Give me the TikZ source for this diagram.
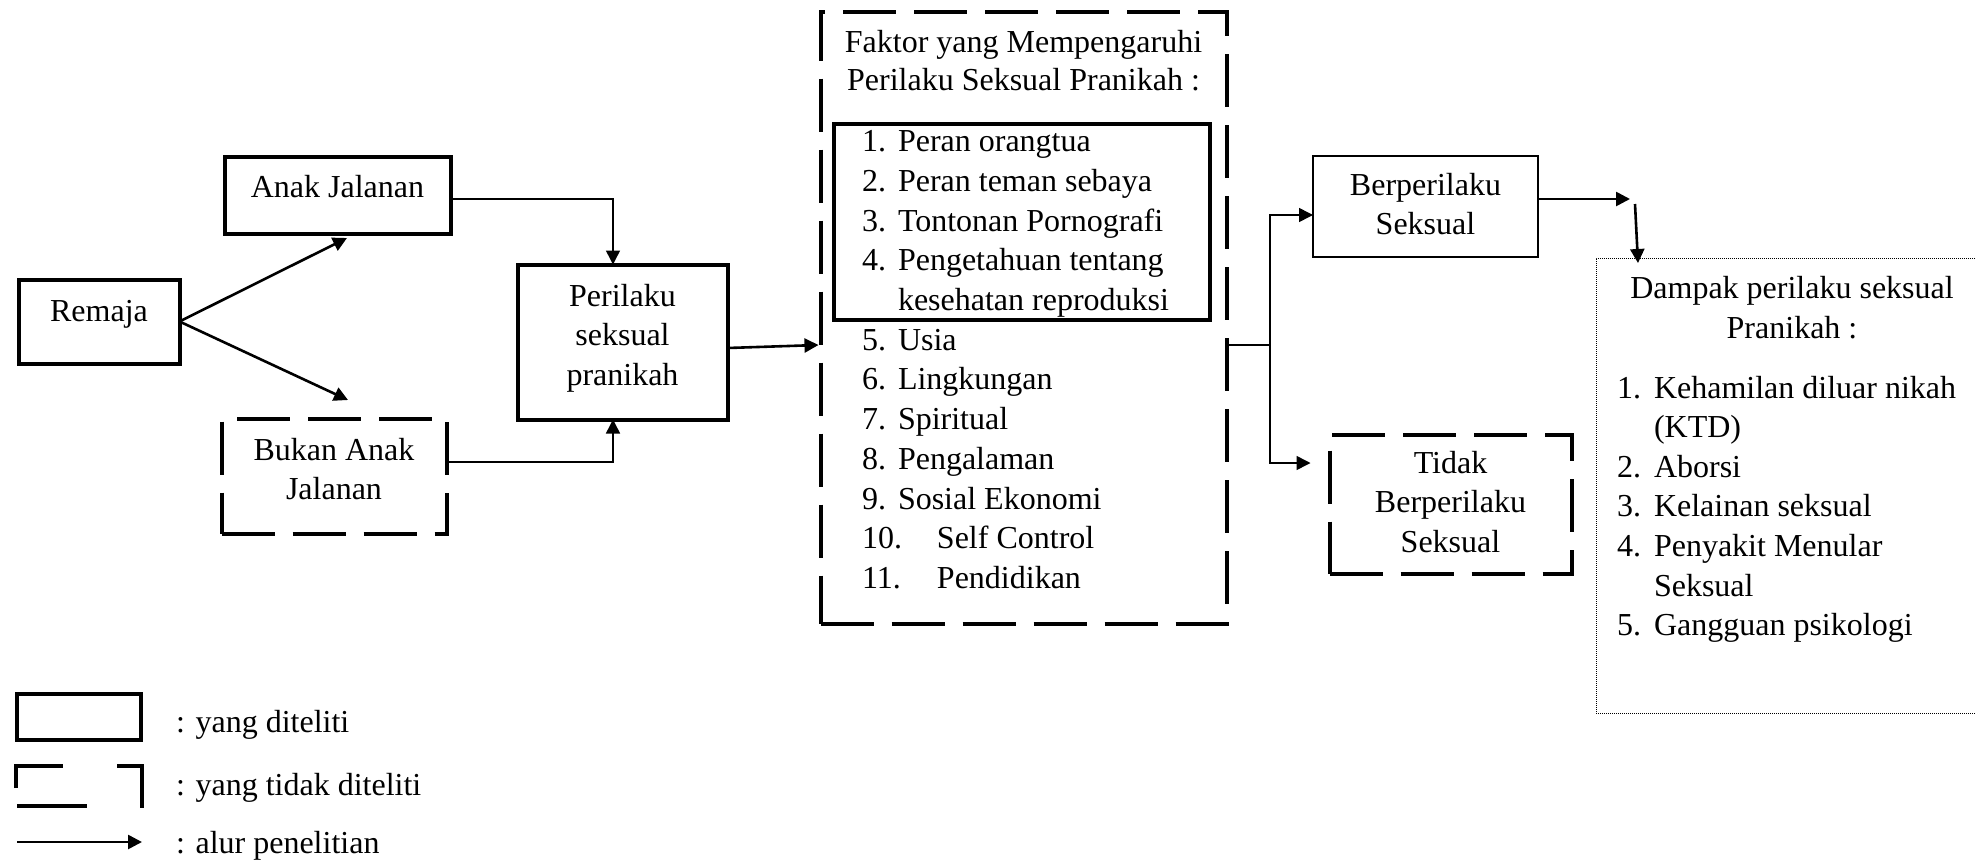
\documentclass[tikz,border=0pt]{standalone}
\usepackage{fontspec}
\setmainfont{Liberation Serif}
\usetikzlibrary{arrows.meta,calc}
\newcommand{\mlines}[1]{\begin{tabular}[t]{@{}c@{}}#1\end{tabular}}
\begin{document}
\begin{tikzpicture}[x=0.5pt,y=-0.5pt,
  every node/.style={font=\fontsize{16}{19.85}\selectfont, inner sep=0pt, outer sep=0pt},
  box/.style={draw, line width=2pt, rectangle, text height=12pt},
  dbox/.style={box, dash pattern=on 26.5pt off 9pt},
  thinbox/.style={draw, line width=1.3pt, rectangle, text height=12pt},
  dotbox/.style={draw, line width=0.5pt, dash pattern=on 0.5pt off 0.5pt},
  txt/.style={anchor=base west},
  ctxt/.style={anchor=base},
  arr/.style={-{Triangle[length=7pt,width=7pt]}},
  conn/.style={line width=0.75pt},
  heavy/.style={line width=1.3pt}
]
\useasboundingbox (0,0) rectangle (1976,862);

% boxes
\node[box, minimum width=80.5pt, minimum height=42pt, text depth=12pt] (remaja) at (99,321.5) {Remaja};
\node[box, minimum width=113pt, minimum height=38.5pt, text depth=9.7pt] (anak) at (337.5,195) {Anak Jalanan};
\node[dbox, minimum width=112.5pt, minimum height=57.5pt, text depth=28pt] (bukan) at (334,476) {\mlines{Bukan Anak\\Jalanan}};
\node[box, minimum width=105pt, minimum height=77.5pt, text depth=48pt] (perilaku) at (622.5,342) {\mlines{Perilaku\\seksual\\pranikah}};
\node[dbox, minimum width=203pt, minimum height=306pt] (faktor) at (1023.5,317.5) {};
\node[box, minimum width=188pt, minimum height=98pt] (inner) at (1021.5,221.5) {};
\node[thinbox, minimum width=112.5pt, minimum height=50.5pt, text depth=23.5pt] (berper) at (1425.5,206.5) {\mlines{Berperilaku\\Seksual}};
\node[dbox, minimum width=121pt, minimum height=69.5pt, text depth=43pt] (tidak) at (1450.5,504) {\mlines{Tidak\\Berperilaku\\Seksual}};
\node[dotbox, minimum width=197pt, minimum height=227.5pt] (dampak) at (1793,485.5) {};

% Faktor text
\node[ctxt] (ft1) at (1023.5,52) {Faktor yang Mempengaruhi};
\node[ctxt] (ft2) at (1023.5,90.5) {Perilaku Seksual Pranikah :};
\node[txt] (f1) at (862,151.7) {\makebox[18pt][l]{1.}Peran orangtua};
\node[txt] (f2) at (862,191.4) {\makebox[18pt][l]{2.}Peran teman sebaya};
\node[txt] (f3) at (862,231.1) {\makebox[18pt][l]{3.}Tontonan Pornografi};
\node[txt] (f4) at (862,270.8) {\makebox[18pt][l]{4.}Pengetahuan tentang};
\node[txt] (f4b) at (898,310.5) {kesehatan reproduksi};
\node[txt] (f5) at (862,350.2) {\makebox[18pt][l]{5.}Usia};
\node[txt] (f6) at (862,389.9) {\makebox[18pt][l]{6.}Lingkungan};
\node[txt] (f7) at (862,429.6) {\makebox[18pt][l]{7.}Spiritual};
\node[txt] (f8) at (862,469.3) {\makebox[18pt][l]{8.}Pengalaman};
\node[txt] (f9) at (862,509.0) {\makebox[18pt][l]{9.}Sosial Ekonomi};
\node[txt] (f10) at (862,548.7) {\makebox[37.5pt][l]{10.}Self Control};
\node[txt] (f11) at (862,588.4) {\makebox[37.5pt][l]{11.}Pendidikan};

% Dampak text
\node[ctxt] (dt1) at (1792,298) {Dampak perilaku seksual};
\node[ctxt] (dt2) at (1792,338) {Pranikah :};
\node[txt] (d1) at (1617,398) {\makebox[18.5pt][l]{1.}Kehamilan diluar nikah};
\node[txt] (d1b) at (1654,437) {(KTD)};
\node[txt] (d2) at (1617,477) {\makebox[18.5pt][l]{2.}Aborsi};
\node[txt] (d3) at (1617,516) {\makebox[18.5pt][l]{3.}Kelainan seksual};
\node[txt] (d4) at (1617,556) {\makebox[18.5pt][l]{4.}Penyakit Menular};
\node[txt] (d4b) at (1654,596) {Seksual};
\node[txt] (d5) at (1617,635) {\makebox[18.5pt][l]{5.}Gangguan psikologi};

% connectors
\coordinate (bk) at ($(bukan.north)+(14,-18.5)$);
\draw[arr, heavy] (remaja.east) -- ($(anak.south)+(9.5,4.5)$);
\draw[arr, heavy] (remaja.east) -- (bk);
\draw[arr, conn] ($(anak.east)+(0,4)$) -| ($(perilaku.north)+(-9.5,0)$);
\draw[arr, conn] ($(bukan.east)+(0,-14)$) -| ($(perilaku.south)+(-9.5,0)$);
\draw[arr, heavy] ($(perilaku.east)+(0,6)$) -- ($(faktor.west)+(-2,27.5)$);
\coordinate (split) at (1270,345);
\draw[conn] ($(faktor.east)+(0,27.5)$) -- (split);
\draw[arr, conn] (split) |- ($(berper.west)+(0,8.5)$);
\draw[arr, conn] (split) |- ($(tidak.west)+(-19,-41)$);
\coordinate (b1) at (1630,199);
\draw[arr, heavy] ($(berper.east)+(0,-7.5)$) -- (b1);
\coordinate (b2) at (1635,204);
\draw[arr, heavy] (b2) -- ($(dampak.north west)+(42,5)$);

% legend
\node[box, minimum width=62pt, minimum height=23pt] (lg1) at (78.5,716.5) {};
\draw[line width=2pt] (16,788) -- (16,765.5) -- (63,765.5);
\draw[line width=2pt] (117,765.5) -- (141.5,765.5) -- (141.5,808);
\draw[line width=2pt] (17,806) -- (87,806);
\coordinate (la0) at (17,842);
\coordinate (la1) at (142,842);
\draw[arr, heavy] (la0) -- (la1);
\node[txt] (lt1) at (176,732) {: yang diteliti};
\node[txt] (lt2) at (176,795) {: yang tidak diteliti};
\node[txt] (lt3) at (176,853) {: alur penelitian};
\end{tikzpicture}
\end{document}
